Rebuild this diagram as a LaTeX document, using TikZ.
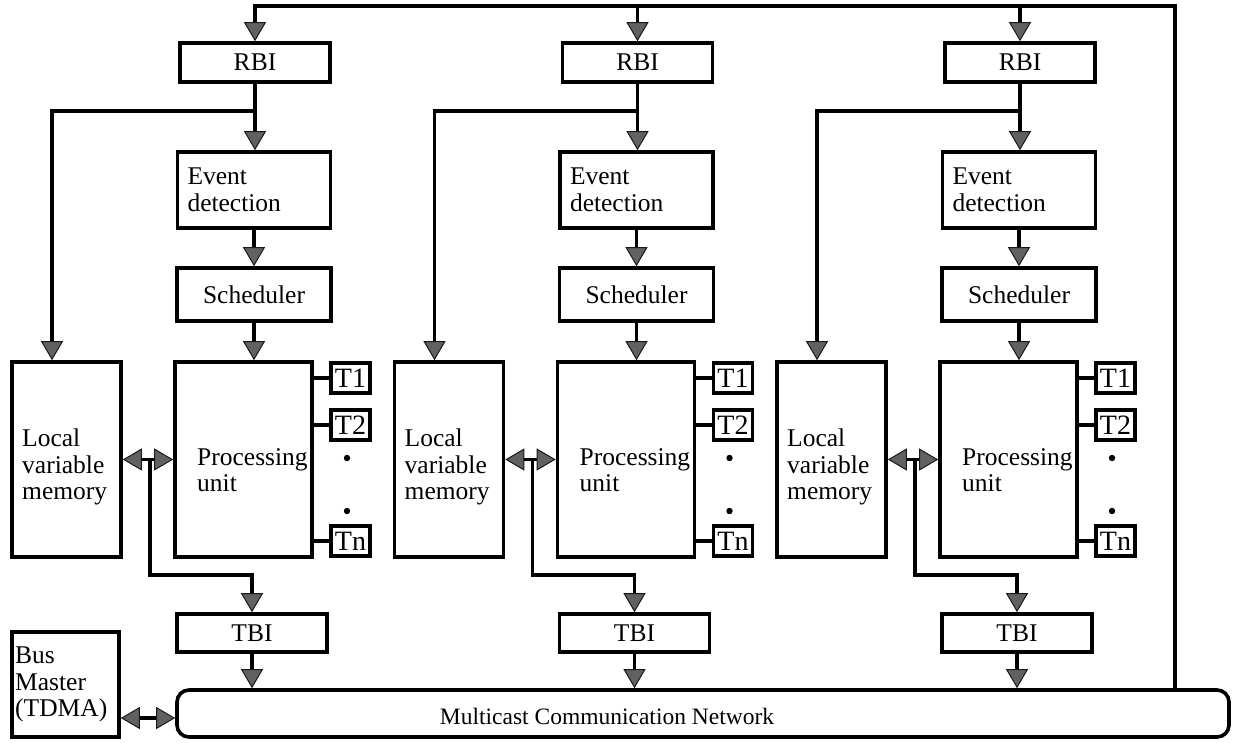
\documentclass[tikz,border=0pt]{standalone}
\usepackage{fontspec}
\setmainfont{Liberation Serif}
\usetikzlibrary{arrows.meta}
\newcommand\diagfont{\fontsize{25.5}{26.5}\selectfont}
\newcommand\tagfont{\fontsize{28}{28}\selectfont}
\newcommand\netfont{\fontsize{23.5}{24}\selectfont}
\tikzset{
  box/.style={draw, line width=3.6pt, inner sep=0pt, fill=white, font=\diagfont},
  tagbox/.style={box, minimum width=39pt, minimum height=30pt, font=\tagfont},
  txt/.style={inner sep=0pt, align=left, font=\diagfont},
  wire/.style={line width=3.1pt},
  gtip/.tip={Triangle[length=19pt, width=22pt, fill=black!62, color=black!90, line width=1pt]},
  arr/.style={wire, -gtip},
  dbl/.style={wire, gtip-gtip},
}
\begin{document}
\begin{tikzpicture}[x=1pt, y=-1pt]
\useasboundingbox (0,0) rectangle (1233,742);

% shared bus and bus master
\node[box, minimum width=1052pt, minimum height=47pt, rounded corners=12pt] (net) at (703,713.5) {};
\node[txt, font=\netfont] (nettext) at (607,716) {Multicast Communication Network};
\node[box, minimum width=107pt, minimum height=105pt] (bm) at (65.5,684.5) {};
\node[txt, anchor=west] (bmtext) at (15,684.5) {Bus\\Master\\(TDMA)};
\draw[dbl] (bm.east |- 0,718) -- (net.west |- 0,718);

% one node per column
\foreach \i/\dx in {1/0, 2/382.5, 3/765} {
  \node[box, minimum width=150pt, minimum height=39pt] (rbi\i) at (255+\dx,62.5) {RBI};
  \node[box, text width=133pt, inner xsep=10pt, minimum height=76pt, align=left] (ev\i) at (254+\dx,190) {Event\\detection};
  \node[box, minimum width=154pt, minimum height=53pt] (sch\i) at (254+\dx,294.5) {Scheduler};
  \node[box, minimum width=137pt, minimum height=195pt] (pu\i) at (243.5+\dx,459.5) {};
  \node[txt, anchor=west] (putext\i) at (197+\dx,470) {Processing\\unit};
  \node[box, minimum width=109pt, minimum height=195pt] (lvm\i) at (66.5+\dx,459.5) {};
  \node[txt, anchor=west] (lvmtext\i) at (22+\dx,467) {Local\\variable\\memory};
  \node[tagbox] (ta\i) at (350.5+\dx,378) {T1};
  \node[tagbox] (tb\i) at (350.5+\dx,425) {T2};
  \node[tagbox] (tn\i) at (350.5+\dx,541) {Tn};
  \fill (347+\dx,458) circle (3.2pt);
  \fill (347+\dx,511) circle (3.2pt);
  \node[box, minimum width=150pt, minimum height=38pt] (tbi\i) at (252+\dx,633) {TBI};

  % receive path
  \draw[arr] (rbi\i.south) -- (rbi\i.south |- ev\i.north);
  \coordinate (br\i) at (rbi\i.south |- 0,111);
  \draw[arr] (br\i) -| ([xshift=-14.5pt]lvm\i.north);
  \draw[arr] (ev\i.south) -- (ev\i.south |- sch\i.north);
  \draw[arr] (sch\i.south) -- (sch\i.south |- pu\i.north);

  % task slots
  \draw[wire] (ta\i.west) -- (ta\i.west -| pu\i.east);
  \draw[wire] (tb\i.west) -- (tb\i.west -| pu\i.east);
  \draw[wire] (tn\i.west) -- (tn\i.west -| pu\i.east);

  % memory access and transmit path
  \draw[dbl] (lvm\i.east) -- (pu\i.west);
  \coordinate (j\i) at (150+\dx,459.5);
  \draw[arr] (j\i) |- (tbi\i.north |- 0,575) -- (tbi\i.north);
  \draw[arr] (tbi\i.south) -- (tbi\i.south |- net.north);
}

% broadcast loop from the bus back to every RBI
\coordinate (tr) at (1175,6);
\draw[arr] (net.north -| tr) -- (tr) -| (rbi1.north);
\draw[arr] (rbi2.north |- tr) -- (rbi2.north);
\draw[arr] (rbi3.north |- tr) -- (rbi3.north);
\end{tikzpicture}
\end{document}
